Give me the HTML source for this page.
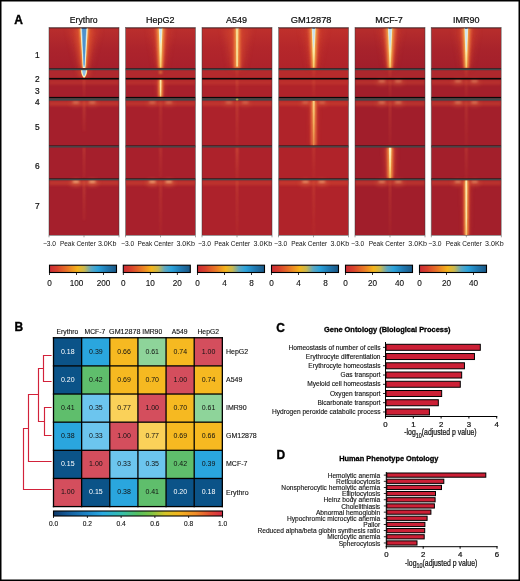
<!DOCTYPE html>
<html><head><meta charset="utf-8"><title>Figure</title>
<style>
html,body{margin:0;padding:0;background:#fff;}
body{width:520px;height:581px;overflow:hidden;}
svg{display:block;will-change:transform;}
text{font-family:"Liberation Sans",sans-serif;}
.tb{stroke:#111;stroke-width:0.22px;}
.tb2{stroke:#111;stroke-width:0.12px;}
</style></head><body>
<svg width="520" height="581" viewBox="0 0 520 581">
<defs>
<filter id="b05" x="-50%" y="-50%" width="200%" height="200%"><feGaussianBlur stdDeviation="0.5"/></filter>
<filter id="b08" x="-50%" y="-50%" width="200%" height="200%"><feGaussianBlur stdDeviation="0.8"/></filter>
<filter id="b12" x="-50%" y="-50%" width="200%" height="200%"><feGaussianBlur stdDeviation="1.2"/></filter>
<filter id="b2" x="-50%" y="-50%" width="200%" height="200%"><feGaussianBlur stdDeviation="2"/></filter>
<filter id="b3" x="-50%" y="-50%" width="200%" height="200%"><feGaussianBlur stdDeviation="3"/></filter>
<filter id="b5" x="-50%" y="-50%" width="200%" height="200%"><feGaussianBlur stdDeviation="5"/></filter>
<linearGradient id="cmA" x1="0" x2="1" y1="0" y2="0">
 <stop offset="0" stop-color="#c92a34"/>
 <stop offset="0.12" stop-color="#d9432c"/>
 <stop offset="0.28" stop-color="#ea7b25"/>
 <stop offset="0.42" stop-color="#f4b51c"/>
 <stop offset="0.52" stop-color="#c8b850"/>
 <stop offset="0.62" stop-color="#5fa8c0"/>
 <stop offset="0.72" stop-color="#2ba3db"/>
 <stop offset="0.86" stop-color="#1f78b0"/>
 <stop offset="1" stop-color="#1a5784"/>
</linearGradient>
<linearGradient id="cmB" x1="0" x2="1" y1="0" y2="0">
 <stop offset="0" stop-color="#0d3766"/>
 <stop offset="0.08" stop-color="#145a98"/>
 <stop offset="0.2" stop-color="#1e86c8"/>
 <stop offset="0.29" stop-color="#2aaae2"/>
 <stop offset="0.4" stop-color="#35bfb0"/>
 <stop offset="0.5" stop-color="#55c060"/>
 <stop offset="0.58" stop-color="#80c444"/>
 <stop offset="0.66" stop-color="#d4c42a"/>
 <stop offset="0.74" stop-color="#f3b51e"/>
 <stop offset="0.84" stop-color="#f08c28"/>
 <stop offset="0.93" stop-color="#e04c34"/>
 <stop offset="1" stop-color="#d42a45"/>
</linearGradient>
<linearGradient id="c1fade" x1="0" x2="0" y1="0" y2="1">
 <stop offset="0" stop-color="#d8452e" stop-opacity="0.4"/>
 <stop offset="0.5" stop-color="#d8452e" stop-opacity="0.12"/>
 <stop offset="1" stop-color="#d8452e" stop-opacity="0"/>
</linearGradient>
<linearGradient id="coreG" x1="0" x2="0" y1="0" y2="1">
 <stop offset="0" stop-color="#fdf2cf"/>
 <stop offset="0.6" stop-color="#fbe6a6"/>
 <stop offset="1" stop-color="#f6c866"/>
</linearGradient>
<linearGradient id="flG" x1="0" x2="0" y1="0" y2="1">
 <stop offset="0" stop-color="#e0603e" stop-opacity="0.85"/>
 <stop offset="1" stop-color="#d04a36" stop-opacity="0.35"/>
</linearGradient>
<linearGradient id="gmG" x1="0" x2="0" y1="0" y2="1">
 <stop offset="0" stop-color="#f8cc80"/>
 <stop offset="0.5" stop-color="#f2ae5c"/>
 <stop offset="1" stop-color="#e68448"/>
</linearGradient>
<linearGradient id="gmE" x1="0" x2="0" y1="0" y2="1">
 <stop offset="0" stop-color="#ec9448"/>
 <stop offset="1" stop-color="#dc6a3e"/>
</linearGradient>
<linearGradient id="mcG" x1="0" x2="0" y1="0" y2="1">
 <stop offset="0" stop-color="#fdf0c4"/>
 <stop offset="0.6" stop-color="#fad98a"/>
 <stop offset="1" stop-color="#f2b050"/>
</linearGradient>
<linearGradient id="imG" x1="0" x2="0" y1="0" y2="1">
 <stop offset="0" stop-color="#fbe6a8"/>
 <stop offset="0.7" stop-color="#fbe0a0"/>
 <stop offset="1" stop-color="#f6c270"/>
</linearGradient>
<linearGradient id="fadeDown" x1="0" x2="0" y1="0" y2="1">
 <stop offset="0" stop-color="#fff" stop-opacity="1"/>
 <stop offset="1" stop-color="#fff" stop-opacity="0.35"/>
</linearGradient>
</defs>
<rect x="0.75" y="0.75" width="518.5" height="579.5" fill="#fff" stroke="#000" stroke-width="1.5"/>

<text x="14.2" y="23.7" font-size="12" font-weight="bold" fill="#000" stroke="#000" stroke-width="0.35">A</text>
<clipPath id="cp0"><rect x="49.0" y="27.5" width="70.0" height="207.8"/></clipPath>
<g clip-path="url(#cp0)">
<rect x="49.0" y="27.5" width="70.0" height="207.8" fill="#a51f2c"/>
<rect x="49.0" y="27.5" width="70.0" height="40.900000000000006" fill="url(#c1fade)"/><rect x="49.0" y="70.2" width="70.0" height="7.799999999999997" fill="#d04232" opacity="0.25"/><polygon points="69.10,27.50 99.10,27.50 89.10,68.40 79.10,68.40" fill="#d4452e" filter="url(#b3)" opacity="0.6"/><polygon points="75.60,27.50 92.60,27.50 87.10,68.40 81.10,68.40" fill="#e0582e" filter="url(#b2)" opacity="0.75"/><polygon points="79.60,27.50 88.60,27.50 85.70,67.90 82.50,67.90" fill="#f4b84a" filter="url(#b08)"/><polygon points="80.40,27.50 87.80,27.50 85.40,67.90 82.80,67.90" fill="#fdf3d0" filter="url(#b05)"/><polygon points="81.30,27.50 86.90,27.50 84.85,66.90 83.35,66.90" fill="#a9d2ea" filter="url(#b05)"/><polygon points="82.00,27.50 86.20,27.50 84.50,65.40 83.70,65.40" fill="#4f92cc" filter="url(#b05)"/><rect x="81.60" y="27.5" width="5" height="1.2" fill="#1d4f80" filter="url(#b05)"/><polygon points="76.10,70.20 92.10,70.20 87.10,78.00 81.10,78.00" fill="#d9502e" filter="url(#b2)" opacity="0.6"/><path d="M80.80,69.90 H87.40 C87.40,74.30 84.89,77.90 84.10,77.90 C83.31,77.90 80.80,74.30 80.80,69.90Z" fill="#f4b84a" filter="url(#b05)"/><path d="M81.30,69.90 H86.90 C86.90,74.08 84.77,77.50 84.10,77.50 C83.43,77.50 81.30,74.08 81.30,69.90Z" fill="#fdf3d0" filter="url(#b05)"/><path d="M82.30,69.90 H85.90 C85.90,73.37 84.53,76.20 84.10,76.20 C83.67,76.20 82.30,73.37 82.30,69.90Z" fill="#8fc0e4" filter="url(#b05)"/><rect x="49.0" y="79.80" width="70.0" height="5" fill="#d44a30" opacity="0.35" filter="url(#b12)"/><polygon points="83.20,79.80 85.00,79.80 84.90,97.00 83.30,97.00" fill="url(#flG)" filter="url(#b08)" opacity="0.55"/><rect x="49.0" y="101.00" width="70.0" height="5" fill="#d44a30" opacity="0.5" filter="url(#b12)"/><ellipse cx="75.90" cy="103.50" rx="6" ry="3.0" fill="#e06a40" filter="url(#b2)" opacity="0.31200000000000006"/><ellipse cx="75.90" cy="102.40" rx="3.4" ry="1.1" fill="#f6b884" filter="url(#b08)" opacity="0.42900000000000005"/><ellipse cx="92.30" cy="103.50" rx="6" ry="3.0" fill="#e06a40" filter="url(#b2)" opacity="0.31200000000000006"/><ellipse cx="92.30" cy="102.40" rx="3.4" ry="1.1" fill="#f6b884" filter="url(#b08)" opacity="0.42900000000000005"/><polygon points="83.02,101.00 85.18,101.00 85.06,131.00 83.14,131.00" fill="url(#flG)" filter="url(#b08)" opacity="0.66"/><polygon points="83.20,147.60 85.00,147.60 84.90,178.50 83.30,178.50" fill="url(#flG)" filter="url(#b08)" opacity="0.6050000000000001"/><rect x="49.0" y="180.30" width="70.0" height="5" fill="#d44a30" opacity="0.5" filter="url(#b12)"/><ellipse cx="75.90" cy="182.80" rx="6" ry="3.0" fill="#e06a40" filter="url(#b2)" opacity="0.6400000000000001"/><ellipse cx="75.90" cy="181.70" rx="3.4" ry="1.1" fill="#f6b884" filter="url(#b08)" opacity="0.8800000000000001"/><ellipse cx="92.30" cy="182.80" rx="6" ry="3.0" fill="#e06a40" filter="url(#b2)" opacity="0.6400000000000001"/><ellipse cx="92.30" cy="181.70" rx="3.4" ry="1.1" fill="#f6b884" filter="url(#b08)" opacity="0.8800000000000001"/><polygon points="83.11,180.30 85.09,180.30 84.98,220.30 83.22,220.30" fill="url(#flG)" filter="url(#b08)" opacity="0.66"/>
<rect x="49.0" y="27.5" width="70.0" height="0.9" fill="#4a2024"/>
<rect x="49.0" y="68.0" width="70.0" height="0.8" fill="#2a1a1c"/>
<rect x="49.0" y="68.8" width="70.0" height="1.4" fill="#3d4a4b"/>
<rect x="49.0" y="77.9" width="70.0" height="1.6" fill="#0a0808"/>
<rect x="49.0" y="96.9" width="70.0" height="1.4" fill="#0a0808"/>
<rect x="49.0" y="98.3" width="70.0" height="2.3" fill="#3d4a4b"/>
<rect x="49.0" y="145.4" width="70.0" height="0.7" fill="#2a1a1c"/>
<rect x="49.0" y="146.1" width="70.0" height="1.4" fill="#3d4a4b"/>
<rect x="49.0" y="178.3" width="70.0" height="0.7" fill="#2a1a1c"/>
<rect x="49.0" y="179.0" width="70.0" height="1.3" fill="#3d4a4b"/>
</g>
<rect x="49.0" y="27.5" width="70.0" height="207.8" fill="none" stroke="#3a3a3a" stroke-width="0.6" opacity="0.8"/>
<text x="83.70" y="22.5" font-size="9" text-anchor="middle" fill="#111" class="tb" textLength="27.8" lengthAdjust="spacingAndGlyphs">Erythro</text>
<rect x="48.70" y="235.3" width="0.6" height="2" fill="#666"/>
<rect x="83.70" y="235.3" width="0.6" height="2" fill="#666"/>
<rect x="118.70" y="235.3" width="0.6" height="2" fill="#666"/>
<text x="42.90" y="245.8" font-size="6.9" fill="#111" textLength="13.2" lengthAdjust="spacingAndGlyphs">−3.0</text>
<text x="59.90" y="245.8" font-size="6.9" fill="#111" textLength="36" lengthAdjust="spacingAndGlyphs">Peak Center</text>
<text x="97.90" y="245.8" font-size="6.9" fill="#111" textLength="18.6" lengthAdjust="spacingAndGlyphs">3.0Kb</text>
<clipPath id="cp1"><rect x="125.5" y="27.5" width="70.0" height="207.8"/></clipPath>
<g clip-path="url(#cp1)">
<rect x="125.5" y="27.5" width="70.0" height="207.8" fill="#a8202c"/>
<rect x="125.5" y="27.5" width="70.0" height="40.900000000000006" fill="url(#c1fade)"/><rect x="125.5" y="70.2" width="70.0" height="7.799999999999997" fill="#d04232" opacity="0.25"/><polygon points="149.60,27.50 171.60,27.50 164.60,68.40 156.60,68.40" fill="#d4452e" filter="url(#b3)" opacity="0.45"/><polygon points="154.60,27.50 166.60,27.50 163.10,68.40 158.10,68.40" fill="#d9482e" filter="url(#b2)" opacity="0.6"/><polygon points="155.09,27.50 166.11,27.50 163.20,68.40 158.00,68.40" fill="#e4683a" filter="url(#b12)" opacity="0.75"/><polygon points="157.70,27.50 163.50,27.50 161.90,68.10 159.30,68.10" fill="#f2b048" filter="url(#b08)"/><polygon points="158.80,27.50 162.40,27.50 161.25,67.40 159.95,67.40" fill="url(#coreG)" filter="url(#b05)"/><polygon points="159.30,27.50 161.90,27.50 160.80,43.50 160.40,43.50" fill="#cfe5f0" filter="url(#b05)"/><rect x="159.40" y="27.5" width="2.4" height="1.3" fill="#7fb0d0" filter="url(#b05)"/><ellipse cx="160.60" cy="72.20" rx="1.6" ry="1.8" fill="#e98a40" filter="url(#b08)" opacity="0.8"/><rect x="125.5" y="79.80" width="70.0" height="5" fill="#d44a30" opacity="0.35" filter="url(#b12)"/><polygon points="156.10,79.80 165.10,79.80 163.60,97.00 157.60,97.00" fill="#d9482e" filter="url(#b2)" opacity="0.5"/><polygon points="157.94,79.80 163.26,79.80 163.00,97.00 158.20,97.00" fill="#e4683a" filter="url(#b12)" opacity="0.75"/><polygon points="159.20,79.80 162.00,79.80 161.80,96.85 159.40,96.85" fill="#f0a844" filter="url(#b08)"/><polygon points="159.73,79.80 161.47,79.80 161.20,96.50 160.00,96.50" fill="url(#imG)" filter="url(#b05)"/><rect x="125.5" y="101.00" width="70.0" height="5" fill="#d44a30" opacity="0.45" filter="url(#b12)"/><ellipse cx="152.40" cy="103.50" rx="6" ry="3.0" fill="#e06a40" filter="url(#b2)" opacity="0.27999999999999997"/><ellipse cx="152.40" cy="102.40" rx="3.4" ry="1.1" fill="#f6b884" filter="url(#b08)" opacity="0.385"/><ellipse cx="168.80" cy="103.50" rx="6" ry="3.0" fill="#e06a40" filter="url(#b2)" opacity="0.27999999999999997"/><ellipse cx="168.80" cy="102.40" rx="3.4" ry="1.1" fill="#f6b884" filter="url(#b08)" opacity="0.385"/><polygon points="159.70,101.00 161.50,101.00 161.40,145.60 159.80,145.60" fill="url(#flG)" filter="url(#b08)" opacity="0.55"/><polygon points="159.70,147.60 161.50,147.60 161.40,178.50 159.80,178.50" fill="url(#flG)" filter="url(#b08)" opacity="0.55"/><rect x="125.5" y="180.30" width="70.0" height="5" fill="#d44a30" opacity="0.5" filter="url(#b12)"/><ellipse cx="152.40" cy="182.80" rx="6" ry="3.0" fill="#e06a40" filter="url(#b2)" opacity="0.6000000000000001"/><ellipse cx="152.40" cy="181.70" rx="3.4" ry="1.1" fill="#f6b884" filter="url(#b08)" opacity="0.8250000000000001"/><ellipse cx="168.80" cy="182.80" rx="6" ry="3.0" fill="#e06a40" filter="url(#b2)" opacity="0.6000000000000001"/><ellipse cx="168.80" cy="181.70" rx="3.4" ry="1.1" fill="#f6b884" filter="url(#b08)" opacity="0.8250000000000001"/><polygon points="159.70,180.30 161.50,180.30 161.40,235.30 159.80,235.30" fill="url(#flG)" filter="url(#b08)" opacity="0.6050000000000001"/>
<rect x="125.5" y="27.5" width="70.0" height="0.9" fill="#4a2024"/>
<rect x="125.5" y="68.0" width="70.0" height="0.8" fill="#2a1a1c"/>
<rect x="125.5" y="68.8" width="70.0" height="1.4" fill="#3d4a4b"/>
<rect x="125.5" y="77.9" width="70.0" height="1.6" fill="#0a0808"/>
<rect x="125.5" y="96.9" width="70.0" height="1.4" fill="#0a0808"/>
<rect x="125.5" y="98.3" width="70.0" height="2.3" fill="#3d4a4b"/>
<rect x="125.5" y="145.4" width="70.0" height="0.7" fill="#2a1a1c"/>
<rect x="125.5" y="146.1" width="70.0" height="1.4" fill="#3d4a4b"/>
<rect x="125.5" y="178.3" width="70.0" height="0.7" fill="#2a1a1c"/>
<rect x="125.5" y="179.0" width="70.0" height="1.3" fill="#3d4a4b"/>
</g>
<rect x="125.5" y="27.5" width="70.0" height="207.8" fill="none" stroke="#3a3a3a" stroke-width="0.6" opacity="0.8"/>
<text x="160.20" y="22.5" font-size="9" text-anchor="middle" fill="#111" class="tb">HepG2</text>
<rect x="125.20" y="235.3" width="0.6" height="2" fill="#666"/>
<rect x="160.20" y="235.3" width="0.6" height="2" fill="#666"/>
<rect x="195.20" y="235.3" width="0.6" height="2" fill="#666"/>
<text x="121.10" y="245.8" font-size="6.9" fill="#111" textLength="13.2" lengthAdjust="spacingAndGlyphs">−3.0</text>
<text x="137.40" y="245.8" font-size="6.9" fill="#111" textLength="36" lengthAdjust="spacingAndGlyphs">Peak Center</text>
<text x="176.40" y="245.8" font-size="6.9" fill="#111" textLength="18.6" lengthAdjust="spacingAndGlyphs">3.0Kb</text>
<clipPath id="cp2"><rect x="202.0" y="27.5" width="70.0" height="207.8"/></clipPath>
<g clip-path="url(#cp2)">
<rect x="202.0" y="27.5" width="70.0" height="207.8" fill="#ad222b"/>
<rect x="202.0" y="27.5" width="70.0" height="40.900000000000006" fill="url(#c1fade)"/><rect x="202.0" y="70.2" width="70.0" height="7.799999999999997" fill="#d04232" opacity="0.25"/><polygon points="224.10,27.50 250.10,27.50 243.10,68.40 231.10,68.40" fill="#d84e30" filter="url(#b3)" opacity="0.5"/><polygon points="231.60,27.50 242.60,27.50 241.10,68.40 233.10,68.40" fill="#d9482e" filter="url(#b2)" opacity="0.55"/><polygon points="233.30,27.50 240.90,27.50 240.70,68.40 233.50,68.40" fill="#e4683a" filter="url(#b12)" opacity="0.75"/><polygon points="235.10,27.50 239.10,27.50 238.90,67.80 235.30,67.80" fill="#ee9a40" filter="url(#b08)"/><polygon points="235.86,27.50 238.34,27.50 238.00,66.40 236.20,66.40" fill="#f8d890" filter="url(#b05)"/><rect x="235.60" y="27.5" width="3" height="1.2" fill="#d8e6e0" filter="url(#b05)"/><polygon points="236.20,70.20 238.00,70.20 237.90,78.00 236.30,78.00" fill="url(#flG)" filter="url(#b08)" opacity="0.55"/><rect x="202.0" y="79.80" width="70.0" height="5" fill="#d44a30" opacity="0.35" filter="url(#b12)"/><polygon points="236.11,79.80 238.09,79.80 237.98,97.00 236.22,97.00" fill="url(#flG)" filter="url(#b08)" opacity="0.66"/><rect x="202.0" y="101.00" width="70.0" height="5" fill="#d44a30" opacity="0.45" filter="url(#b12)"/><ellipse cx="228.90" cy="103.50" rx="6" ry="3.0" fill="#e06a40" filter="url(#b2)" opacity="0.256"/><ellipse cx="228.90" cy="102.40" rx="3.4" ry="1.1" fill="#f6b884" filter="url(#b08)" opacity="0.35200000000000004"/><ellipse cx="245.30" cy="103.50" rx="6" ry="3.0" fill="#e06a40" filter="url(#b2)" opacity="0.256"/><ellipse cx="245.30" cy="102.40" rx="3.4" ry="1.1" fill="#f6b884" filter="url(#b08)" opacity="0.35200000000000004"/><polygon points="236.11,101.00 238.09,101.00 237.98,145.60 236.22,145.60" fill="url(#flG)" filter="url(#b08)" opacity="0.66"/><polygon points="236.02,147.60 238.18,147.60 238.06,178.50 236.14,178.50" fill="url(#flG)" filter="url(#b08)" opacity="0.8250000000000001"/><rect x="202.0" y="180.30" width="70.0" height="5" fill="#d44a30" opacity="0.4" filter="url(#b12)"/><polygon points="236.20,180.30 238.00,180.30 237.90,235.30 236.30,235.30" fill="url(#flG)" filter="url(#b08)" opacity="0.6050000000000001"/>
<rect x="202.0" y="27.5" width="70.0" height="0.9" fill="#4a2024"/>
<rect x="202.0" y="68.0" width="70.0" height="0.8" fill="#2a1a1c"/>
<rect x="202.0" y="68.8" width="70.0" height="1.4" fill="#3d4a4b"/>
<rect x="202.0" y="77.9" width="70.0" height="1.6" fill="#0a0808"/>
<rect x="202.0" y="96.9" width="70.0" height="1.4" fill="#0a0808"/>
<rect x="202.0" y="98.3" width="70.0" height="2.3" fill="#3d4a4b"/>
<rect x="202.0" y="145.4" width="70.0" height="0.7" fill="#2a1a1c"/>
<rect x="202.0" y="146.1" width="70.0" height="1.4" fill="#3d4a4b"/>
<rect x="202.0" y="178.3" width="70.0" height="0.7" fill="#2a1a1c"/>
<rect x="202.0" y="179.0" width="70.0" height="1.3" fill="#3d4a4b"/>
<ellipse cx="237.10" cy="99.6" rx="1.4" ry="1.0" fill="#b8c050" filter="url(#b05)" opacity="0.85"/>
</g>
<rect x="202.0" y="27.5" width="70.0" height="207.8" fill="none" stroke="#3a3a3a" stroke-width="0.6" opacity="0.8"/>
<text x="236.50" y="22.5" font-size="9" text-anchor="middle" fill="#111" class="tb">A549</text>
<rect x="201.70" y="235.3" width="0.6" height="2" fill="#666"/>
<rect x="236.70" y="235.3" width="0.6" height="2" fill="#666"/>
<rect x="271.70" y="235.3" width="0.6" height="2" fill="#666"/>
<text x="197.90" y="245.8" font-size="6.9" fill="#111" textLength="13.2" lengthAdjust="spacingAndGlyphs">−3.0</text>
<text x="214.20" y="245.8" font-size="6.9" fill="#111" textLength="36" lengthAdjust="spacingAndGlyphs">Peak Center</text>
<text x="253.60" y="245.8" font-size="6.9" fill="#111" textLength="18.6" lengthAdjust="spacingAndGlyphs">3.0Kb</text>
<clipPath id="cp3"><rect x="278.6" y="27.5" width="70.0" height="207.8"/></clipPath>
<g clip-path="url(#cp3)">
<rect x="278.6" y="27.5" width="70.0" height="207.8" fill="#b0232a"/>
<rect x="278.6" y="27.5" width="70.0" height="40.900000000000006" fill="url(#c1fade)"/><rect x="278.6" y="70.2" width="70.0" height="7.799999999999997" fill="#d04232" opacity="0.25"/><polygon points="301.70,27.50 325.70,27.50 317.70,68.40 309.70,68.40" fill="#d4452e" filter="url(#b3)" opacity="0.45"/><polygon points="307.70,27.50 319.70,27.50 316.20,68.40 311.20,68.40" fill="#d9482e" filter="url(#b2)" opacity="0.6"/><polygon points="308.00,27.50 319.40,27.50 316.30,68.40 311.10,68.40" fill="#e4683a" filter="url(#b12)" opacity="0.75"/><polygon points="310.70,27.50 316.70,27.50 315.00,68.10 312.40,68.10" fill="#f2b048" filter="url(#b08)"/><polygon points="311.84,27.50 315.56,27.50 314.35,67.40 313.05,67.40" fill="url(#coreG)" filter="url(#b05)"/><polygon points="312.20,27.50 315.20,27.50 313.90,47.50 313.50,47.50" fill="#c8e1ee" filter="url(#b05)"/><rect x="312.40" y="27.5" width="2.6" height="1.3" fill="#4a7eae" filter="url(#b05)"/><polygon points="312.80,70.20 314.60,70.20 314.50,78.00 312.90,78.00" fill="url(#flG)" filter="url(#b08)" opacity="0.55"/><rect x="278.6" y="79.80" width="70.0" height="5" fill="#d44a30" opacity="0.35" filter="url(#b12)"/><polygon points="312.80,79.80 314.60,79.80 314.50,97.00 312.90,97.00" fill="url(#flG)" filter="url(#b08)" opacity="0.55"/><rect x="278.6" y="101.00" width="70.0" height="5" fill="#d44a30" opacity="0.45" filter="url(#b12)"/><ellipse cx="305.50" cy="103.50" rx="6" ry="3.0" fill="#e06a40" filter="url(#b2)" opacity="0.256"/><ellipse cx="305.50" cy="102.40" rx="3.4" ry="1.1" fill="#f6b884" filter="url(#b08)" opacity="0.35200000000000004"/><ellipse cx="321.90" cy="103.50" rx="6" ry="3.0" fill="#e06a40" filter="url(#b2)" opacity="0.256"/><ellipse cx="321.90" cy="102.40" rx="3.4" ry="1.1" fill="#f6b884" filter="url(#b08)" opacity="0.35200000000000004"/><polygon points="309.20,101.00 318.20,101.00 317.20,145.60 310.20,145.60" fill="#d9482e" filter="url(#b2)" opacity="0.4"/><polygon points="310.66,101.00 316.74,101.00 316.50,145.60 310.90,145.60" fill="#e4683a" filter="url(#b12)" opacity="0.75"/><polygon points="312.10,101.00 315.30,101.00 315.10,145.60 312.30,145.60" fill="url(#gmE)" filter="url(#b08)"/><polygon points="312.71,101.00 314.69,101.00 314.40,145.60 313.00,145.60" fill="url(#gmG)" filter="url(#b05)"/><polygon points="312.80,147.60 314.60,147.60 314.50,178.50 312.90,178.50" fill="url(#flG)" filter="url(#b08)" opacity="0.55"/><rect x="278.6" y="180.30" width="70.0" height="5" fill="#d44a30" opacity="0.5" filter="url(#b12)"/><ellipse cx="305.50" cy="182.80" rx="6" ry="3.0" fill="#e06a40" filter="url(#b2)" opacity="0.48"/><ellipse cx="305.50" cy="181.70" rx="3.4" ry="1.1" fill="#f6b884" filter="url(#b08)" opacity="0.66"/><ellipse cx="321.90" cy="182.80" rx="6" ry="3.0" fill="#e06a40" filter="url(#b2)" opacity="0.48"/><ellipse cx="321.90" cy="181.70" rx="3.4" ry="1.1" fill="#f6b884" filter="url(#b08)" opacity="0.66"/><polygon points="312.80,180.30 314.60,180.30 314.50,235.30 312.90,235.30" fill="url(#flG)" filter="url(#b08)" opacity="0.6050000000000001"/>
<rect x="278.6" y="27.5" width="70.0" height="0.9" fill="#4a2024"/>
<rect x="278.6" y="68.0" width="70.0" height="0.8" fill="#2a1a1c"/>
<rect x="278.6" y="68.8" width="70.0" height="1.4" fill="#3d4a4b"/>
<rect x="278.6" y="77.9" width="70.0" height="1.6" fill="#0a0808"/>
<rect x="278.6" y="96.9" width="70.0" height="1.4" fill="#0a0808"/>
<rect x="278.6" y="98.3" width="70.0" height="2.3" fill="#3d4a4b"/>
<rect x="278.6" y="145.4" width="70.0" height="0.7" fill="#2a1a1c"/>
<rect x="278.6" y="146.1" width="70.0" height="1.4" fill="#3d4a4b"/>
<rect x="278.6" y="178.3" width="70.0" height="0.7" fill="#2a1a1c"/>
<rect x="278.6" y="179.0" width="70.0" height="1.3" fill="#3d4a4b"/>
</g>
<rect x="278.6" y="27.5" width="70.0" height="207.8" fill="none" stroke="#3a3a3a" stroke-width="0.6" opacity="0.8"/>
<text x="311.10" y="22.5" font-size="9" text-anchor="middle" fill="#111" class="tb" textLength="40.8" lengthAdjust="spacingAndGlyphs">GM12878</text>
<rect x="278.30" y="235.3" width="0.6" height="2" fill="#666"/>
<rect x="313.30" y="235.3" width="0.6" height="2" fill="#666"/>
<rect x="348.30" y="235.3" width="0.6" height="2" fill="#666"/>
<text x="274.10" y="245.8" font-size="6.9" fill="#111" textLength="13.2" lengthAdjust="spacingAndGlyphs">−3.0</text>
<text x="291.20" y="245.8" font-size="6.9" fill="#111" textLength="36" lengthAdjust="spacingAndGlyphs">Peak Center</text>
<text x="330.50" y="245.8" font-size="6.9" fill="#111" textLength="18.6" lengthAdjust="spacingAndGlyphs">3.0Kb</text>
<clipPath id="cp4"><rect x="355.0" y="27.5" width="70.0" height="207.8"/></clipPath>
<g clip-path="url(#cp4)">
<rect x="355.0" y="27.5" width="70.0" height="207.8" fill="#a11e2b"/>
<rect x="355.0" y="27.5" width="70.0" height="40.900000000000006" fill="url(#c1fade)"/><rect x="355.0" y="70.2" width="70.0" height="7.799999999999997" fill="#d04232" opacity="0.25"/><polygon points="379.10,27.50 401.10,27.50 394.10,68.40 386.10,68.40" fill="#d4452e" filter="url(#b3)" opacity="0.45"/><polygon points="383.10,27.50 397.10,27.50 393.10,68.40 387.10,68.40" fill="#d9482e" filter="url(#b2)" opacity="0.6"/><polygon points="383.64,27.50 396.56,27.50 392.70,68.40 387.50,68.40" fill="#e4683a" filter="url(#b12)" opacity="0.75"/><polygon points="386.70,27.50 393.50,27.50 391.40,68.10 388.80,68.10" fill="#f2b048" filter="url(#b08)"/><polygon points="387.99,27.50 392.21,27.50 390.75,67.40 389.45,67.40" fill="url(#coreG)" filter="url(#b05)"/><polygon points="388.30,27.50 391.90,27.50 390.30,49.50 389.90,49.50" fill="#c4deec" filter="url(#b05)"/><rect x="388.60" y="27.5" width="3.0" height="1.3" fill="#2f6294" filter="url(#b05)"/><polygon points="389.20,70.20 391.00,70.20 390.90,78.00 389.30,78.00" fill="url(#flG)" filter="url(#b08)" opacity="0.55"/><rect x="355.0" y="79.80" width="70.0" height="5" fill="#d44a30" opacity="0.4" filter="url(#b12)"/><ellipse cx="381.90" cy="82.30" rx="6" ry="3.0" fill="#e06a40" filter="url(#b2)" opacity="0.32000000000000006"/><ellipse cx="381.90" cy="81.20" rx="3.4" ry="1.1" fill="#f6b884" filter="url(#b08)" opacity="0.44000000000000006"/><ellipse cx="398.30" cy="82.30" rx="6" ry="3.0" fill="#e06a40" filter="url(#b2)" opacity="0.32000000000000006"/><ellipse cx="398.30" cy="81.20" rx="3.4" ry="1.1" fill="#f6b884" filter="url(#b08)" opacity="0.44000000000000006"/><polygon points="389.20,79.80 391.00,79.80 390.90,97.00 389.30,97.00" fill="url(#flG)" filter="url(#b08)" opacity="0.55"/><rect x="355.0" y="101.00" width="70.0" height="5" fill="#d44a30" opacity="0.45" filter="url(#b12)"/><ellipse cx="381.90" cy="103.50" rx="6" ry="3.0" fill="#e06a40" filter="url(#b2)" opacity="0.336"/><ellipse cx="381.90" cy="102.40" rx="3.4" ry="1.1" fill="#f6b884" filter="url(#b08)" opacity="0.462"/><ellipse cx="398.30" cy="103.50" rx="6" ry="3.0" fill="#e06a40" filter="url(#b2)" opacity="0.336"/><ellipse cx="398.30" cy="102.40" rx="3.4" ry="1.1" fill="#f6b884" filter="url(#b08)" opacity="0.462"/><polygon points="389.20,101.00 391.00,101.00 390.90,145.60 389.30,145.60" fill="url(#flG)" filter="url(#b08)" opacity="0.55"/><polygon points="384.10,147.60 396.10,147.60 394.60,178.50 385.60,178.50" fill="#d9482e" filter="url(#b2)" opacity="0.5"/><polygon points="386.30,147.60 393.90,147.60 393.10,178.50 387.10,178.50" fill="#e4683a" filter="url(#b12)" opacity="0.75"/><polygon points="388.10,147.60 392.10,147.60 391.60,178.50 388.60,178.50" fill="#f0a444" filter="url(#b08)"/><polygon points="388.86,147.60 391.34,147.60 390.85,178.50 389.35,178.50" fill="url(#mcG)" filter="url(#b05)"/><rect x="355.0" y="180.30" width="70.0" height="5" fill="#d44a30" opacity="0.45" filter="url(#b12)"/><ellipse cx="381.90" cy="182.80" rx="6" ry="3.0" fill="#e06a40" filter="url(#b2)" opacity="0.4"/><ellipse cx="381.90" cy="181.70" rx="3.4" ry="1.1" fill="#f6b884" filter="url(#b08)" opacity="0.55"/><ellipse cx="398.30" cy="182.80" rx="6" ry="3.0" fill="#e06a40" filter="url(#b2)" opacity="0.4"/><ellipse cx="398.30" cy="181.70" rx="3.4" ry="1.1" fill="#f6b884" filter="url(#b08)" opacity="0.55"/><polygon points="389.20,180.30 391.00,180.30 390.90,235.30 389.30,235.30" fill="url(#flG)" filter="url(#b08)" opacity="0.55"/>
<rect x="355.0" y="27.5" width="70.0" height="0.9" fill="#4a2024"/>
<rect x="355.0" y="68.0" width="70.0" height="0.8" fill="#2a1a1c"/>
<rect x="355.0" y="68.8" width="70.0" height="1.4" fill="#3d4a4b"/>
<rect x="355.0" y="77.9" width="70.0" height="1.6" fill="#0a0808"/>
<rect x="355.0" y="96.9" width="70.0" height="1.4" fill="#0a0808"/>
<rect x="355.0" y="98.3" width="70.0" height="2.3" fill="#3d4a4b"/>
<rect x="355.0" y="145.4" width="70.0" height="0.7" fill="#2a1a1c"/>
<rect x="355.0" y="146.1" width="70.0" height="1.4" fill="#3d4a4b"/>
<rect x="355.0" y="178.3" width="70.0" height="0.7" fill="#2a1a1c"/>
<rect x="355.0" y="179.0" width="70.0" height="1.3" fill="#3d4a4b"/>
</g>
<rect x="355.0" y="27.5" width="70.0" height="207.8" fill="none" stroke="#3a3a3a" stroke-width="0.6" opacity="0.8"/>
<text x="389.10" y="22.5" font-size="9" text-anchor="middle" fill="#111" class="tb">MCF-7</text>
<rect x="354.70" y="235.3" width="0.6" height="2" fill="#666"/>
<rect x="389.70" y="235.3" width="0.6" height="2" fill="#666"/>
<rect x="424.70" y="235.3" width="0.6" height="2" fill="#666"/>
<text x="351.10" y="245.8" font-size="6.9" fill="#111" textLength="13.2" lengthAdjust="spacingAndGlyphs">−3.0</text>
<text x="368.70" y="245.8" font-size="6.9" fill="#111" textLength="36" lengthAdjust="spacingAndGlyphs">Peak Center</text>
<text x="408.30" y="245.8" font-size="6.9" fill="#111" textLength="18.6" lengthAdjust="spacingAndGlyphs">3.0Kb</text>
<clipPath id="cp5"><rect x="431.2" y="27.5" width="70.0" height="207.8"/></clipPath>
<g clip-path="url(#cp5)">
<rect x="431.2" y="27.5" width="70.0" height="207.8" fill="#a31f2b"/>
<rect x="431.2" y="27.5" width="70.0" height="40.900000000000006" fill="url(#c1fade)"/><rect x="431.2" y="70.2" width="70.0" height="7.799999999999997" fill="#d04232" opacity="0.25"/><polygon points="455.30,27.50 477.30,27.50 470.30,68.40 462.30,68.40" fill="#d4452e" filter="url(#b3)" opacity="0.45"/><polygon points="460.30,27.50 472.30,27.50 468.80,68.40 463.80,68.40" fill="#d9482e" filter="url(#b2)" opacity="0.6"/><polygon points="460.79,27.50 471.81,27.50 468.90,68.40 463.70,68.40" fill="#e4683a" filter="url(#b12)" opacity="0.75"/><polygon points="463.40,27.50 469.20,27.50 467.60,68.10 465.00,68.10" fill="#f2b048" filter="url(#b08)"/><polygon points="464.50,27.50 468.10,27.50 466.95,67.40 465.65,67.40" fill="url(#coreG)" filter="url(#b05)"/><polygon points="464.80,27.50 467.80,27.50 466.50,51.50 466.10,51.50" fill="#cfe6f2" filter="url(#b05)"/><rect x="465.00" y="27.5" width="2.6" height="1.3" fill="#3f74a6" filter="url(#b05)"/><polygon points="465.40,70.20 467.20,70.20 467.10,78.00 465.50,78.00" fill="url(#flG)" filter="url(#b08)" opacity="0.55"/><rect x="431.2" y="79.80" width="70.0" height="5" fill="#d44a30" opacity="0.4" filter="url(#b12)"/><ellipse cx="458.10" cy="82.30" rx="6" ry="3.0" fill="#e06a40" filter="url(#b2)" opacity="0.32000000000000006"/><ellipse cx="458.10" cy="81.20" rx="3.4" ry="1.1" fill="#f6b884" filter="url(#b08)" opacity="0.44000000000000006"/><ellipse cx="474.50" cy="82.30" rx="6" ry="3.0" fill="#e06a40" filter="url(#b2)" opacity="0.32000000000000006"/><ellipse cx="474.50" cy="81.20" rx="3.4" ry="1.1" fill="#f6b884" filter="url(#b08)" opacity="0.44000000000000006"/><polygon points="465.40,79.80 467.20,79.80 467.10,97.00 465.50,97.00" fill="url(#flG)" filter="url(#b08)" opacity="0.55"/><rect x="431.2" y="101.00" width="70.0" height="5" fill="#d44a30" opacity="0.45" filter="url(#b12)"/><ellipse cx="458.10" cy="103.50" rx="6" ry="3.0" fill="#e06a40" filter="url(#b2)" opacity="0.336"/><ellipse cx="458.10" cy="102.40" rx="3.4" ry="1.1" fill="#f6b884" filter="url(#b08)" opacity="0.462"/><ellipse cx="474.50" cy="103.50" rx="6" ry="3.0" fill="#e06a40" filter="url(#b2)" opacity="0.336"/><ellipse cx="474.50" cy="102.40" rx="3.4" ry="1.1" fill="#f6b884" filter="url(#b08)" opacity="0.462"/><polygon points="465.40,101.00 467.20,101.00 467.10,145.60 465.50,145.60" fill="url(#flG)" filter="url(#b08)" opacity="0.55"/><polygon points="465.40,147.60 467.20,147.60 467.10,178.50 465.50,178.50" fill="url(#flG)" filter="url(#b08)" opacity="0.55"/><rect x="431.2" y="180.30" width="70.0" height="5" fill="#d44a30" opacity="0.45" filter="url(#b12)"/><ellipse cx="458.10" cy="182.80" rx="6" ry="3.0" fill="#e06a40" filter="url(#b2)" opacity="0.4"/><ellipse cx="458.10" cy="181.70" rx="3.4" ry="1.1" fill="#f6b884" filter="url(#b08)" opacity="0.55"/><ellipse cx="474.50" cy="182.80" rx="6" ry="3.0" fill="#e06a40" filter="url(#b2)" opacity="0.4"/><ellipse cx="474.50" cy="181.70" rx="3.4" ry="1.1" fill="#f6b884" filter="url(#b08)" opacity="0.55"/><polygon points="461.80,180.30 470.80,180.30 469.30,235.30 463.30,235.30" fill="#d9482e" filter="url(#b2)" opacity="0.5"/><polygon points="463.45,180.30 469.15,180.30 468.90,235.30 463.70,235.30" fill="#e4683a" filter="url(#b12)" opacity="0.75"/><polygon points="464.80,180.30 467.80,180.30 467.60,235.30 465.00,235.30" fill="#f2b048" filter="url(#b08)"/><polygon points="465.37,180.30 467.23,180.30 466.95,235.30 465.65,235.30" fill="url(#imG)" filter="url(#b05)"/>
<rect x="431.2" y="27.5" width="70.0" height="0.9" fill="#4a2024"/>
<rect x="431.2" y="68.0" width="70.0" height="0.8" fill="#2a1a1c"/>
<rect x="431.2" y="68.8" width="70.0" height="1.4" fill="#3d4a4b"/>
<rect x="431.2" y="77.9" width="70.0" height="1.6" fill="#0a0808"/>
<rect x="431.2" y="96.9" width="70.0" height="1.4" fill="#0a0808"/>
<rect x="431.2" y="98.3" width="70.0" height="2.3" fill="#3d4a4b"/>
<rect x="431.2" y="145.4" width="70.0" height="0.7" fill="#2a1a1c"/>
<rect x="431.2" y="146.1" width="70.0" height="1.4" fill="#3d4a4b"/>
<rect x="431.2" y="178.3" width="70.0" height="0.7" fill="#2a1a1c"/>
<rect x="431.2" y="179.0" width="70.0" height="1.3" fill="#3d4a4b"/>
</g>
<rect x="431.2" y="27.5" width="70.0" height="207.8" fill="none" stroke="#3a3a3a" stroke-width="0.6" opacity="0.8"/>
<text x="466.30" y="22.5" font-size="9" text-anchor="middle" fill="#111" class="tb">IMR90</text>
<rect x="430.90" y="235.3" width="0.6" height="2" fill="#666"/>
<rect x="465.90" y="235.3" width="0.6" height="2" fill="#666"/>
<rect x="500.90" y="235.3" width="0.6" height="2" fill="#666"/>
<text x="428.30" y="245.8" font-size="6.9" fill="#111" textLength="13.2" lengthAdjust="spacingAndGlyphs">−3.0</text>
<text x="445.80" y="245.8" font-size="6.9" fill="#111" textLength="36" lengthAdjust="spacingAndGlyphs">Peak Center</text>
<text x="485.00" y="245.8" font-size="6.9" fill="#111" textLength="18.6" lengthAdjust="spacingAndGlyphs">3.0Kb</text>
<rect x="49.5" y="265.2" width="67.0" height="7.3" fill="url(#cmA)" stroke="#000" stroke-width="1.1"/>
<rect x="49.10" y="272.5" width="0.8" height="2.5" fill="#000"/>
<text x="49.50" y="285.5" font-size="8.2" text-anchor="middle" fill="#111" class="tb2">0</text>
<rect x="76.10" y="272.5" width="0.8" height="2.5" fill="#000"/>
<text x="76.50" y="285.5" font-size="8.2" text-anchor="middle" fill="#111" class="tb2">100</text>
<rect x="103.10" y="272.5" width="0.8" height="2.5" fill="#000"/>
<text x="103.50" y="285.5" font-size="8.2" text-anchor="middle" fill="#111" class="tb2">200</text>
<rect x="123.3" y="265.2" width="67.0" height="7.3" fill="url(#cmA)" stroke="#000" stroke-width="1.1"/>
<rect x="122.90" y="272.5" width="0.8" height="2.5" fill="#000"/>
<text x="123.30" y="285.5" font-size="8.2" text-anchor="middle" fill="#111" class="tb2">0</text>
<rect x="149.90" y="272.5" width="0.8" height="2.5" fill="#000"/>
<text x="150.30" y="285.5" font-size="8.2" text-anchor="middle" fill="#111" class="tb2">10</text>
<rect x="176.90" y="272.5" width="0.8" height="2.5" fill="#000"/>
<text x="177.30" y="285.5" font-size="8.2" text-anchor="middle" fill="#111" class="tb2">20</text>
<rect x="197.5" y="265.2" width="67.0" height="7.3" fill="url(#cmA)" stroke="#000" stroke-width="1.1"/>
<rect x="197.10" y="272.5" width="0.8" height="2.5" fill="#000"/>
<text x="197.50" y="285.5" font-size="8.2" text-anchor="middle" fill="#111" class="tb2">0</text>
<rect x="224.10" y="272.5" width="0.8" height="2.5" fill="#000"/>
<text x="224.50" y="285.5" font-size="8.2" text-anchor="middle" fill="#111" class="tb2">4</text>
<rect x="251.10" y="272.5" width="0.8" height="2.5" fill="#000"/>
<text x="251.50" y="285.5" font-size="8.2" text-anchor="middle" fill="#111" class="tb2">8</text>
<rect x="271.5" y="265.2" width="67.0" height="7.3" fill="url(#cmA)" stroke="#000" stroke-width="1.1"/>
<rect x="271.10" y="272.5" width="0.8" height="2.5" fill="#000"/>
<text x="271.50" y="285.5" font-size="8.2" text-anchor="middle" fill="#111" class="tb2">0</text>
<rect x="298.10" y="272.5" width="0.8" height="2.5" fill="#000"/>
<text x="298.50" y="285.5" font-size="8.2" text-anchor="middle" fill="#111" class="tb2">4</text>
<rect x="325.10" y="272.5" width="0.8" height="2.5" fill="#000"/>
<text x="325.50" y="285.5" font-size="8.2" text-anchor="middle" fill="#111" class="tb2">8</text>
<rect x="345.5" y="265.2" width="67.0" height="7.3" fill="url(#cmA)" stroke="#000" stroke-width="1.1"/>
<rect x="345.10" y="272.5" width="0.8" height="2.5" fill="#000"/>
<text x="345.50" y="285.5" font-size="8.2" text-anchor="middle" fill="#111" class="tb2">0</text>
<rect x="372.10" y="272.5" width="0.8" height="2.5" fill="#000"/>
<text x="372.50" y="285.5" font-size="8.2" text-anchor="middle" fill="#111" class="tb2">20</text>
<rect x="399.10" y="272.5" width="0.8" height="2.5" fill="#000"/>
<text x="399.50" y="285.5" font-size="8.2" text-anchor="middle" fill="#111" class="tb2">40</text>
<rect x="419.5" y="265.2" width="67.0" height="7.3" fill="url(#cmA)" stroke="#000" stroke-width="1.1"/>
<rect x="419.10" y="272.5" width="0.8" height="2.5" fill="#000"/>
<text x="419.50" y="285.5" font-size="8.2" text-anchor="middle" fill="#111" class="tb2">0</text>
<rect x="446.10" y="272.5" width="0.8" height="2.5" fill="#000"/>
<text x="446.50" y="285.5" font-size="8.2" text-anchor="middle" fill="#111" class="tb2">20</text>
<rect x="473.10" y="272.5" width="0.8" height="2.5" fill="#000"/>
<text x="473.50" y="285.5" font-size="8.2" text-anchor="middle" fill="#111" class="tb2">40</text>
<text x="37.2" y="57.9" font-size="8.3" text-anchor="middle" fill="#111" class="tb">1</text>
<text x="37.2" y="81.9" font-size="8.3" text-anchor="middle" fill="#111" class="tb">2</text>
<text x="37.2" y="94.2" font-size="8.3" text-anchor="middle" fill="#111" class="tb">3</text>
<text x="37.2" y="105.4" font-size="8.3" text-anchor="middle" fill="#111" class="tb">4</text>
<text x="37.2" y="130.0" font-size="8.3" text-anchor="middle" fill="#111" class="tb">5</text>
<text x="37.2" y="168.7" font-size="8.3" text-anchor="middle" fill="#111" class="tb">6</text>
<text x="37.2" y="208.8" font-size="8.3" text-anchor="middle" fill="#111" class="tb">7</text>
<text x="14.6" y="331.3" font-size="12" font-weight="bold" fill="#000" stroke="#000" stroke-width="0.35">B</text>
<rect x="53.50" y="337.75" width="28.14" height="28.14" fill="#0b5388"/>
<text x="67.77" y="353.72" font-size="7" text-anchor="middle" fill="#fff">0.18</text>
<rect x="81.64" y="337.75" width="28.14" height="28.14" fill="#2aa6de"/>
<text x="95.91" y="353.72" font-size="7" text-anchor="middle" fill="#111">0.39</text>
<rect x="109.78" y="337.75" width="28.14" height="28.14" fill="#f6b921"/>
<text x="124.05" y="353.72" font-size="7" text-anchor="middle" fill="#111">0.66</text>
<rect x="137.92" y="337.75" width="28.14" height="28.14" fill="#8ed49a"/>
<text x="152.19" y="353.72" font-size="7" text-anchor="middle" fill="#111">0.61</text>
<rect x="166.06" y="337.75" width="28.14" height="28.14" fill="#f6b921"/>
<text x="180.33" y="353.72" font-size="7" text-anchor="middle" fill="#111">0.74</text>
<rect x="194.20" y="337.75" width="28.14" height="28.14" fill="#d44e5d"/>
<text x="208.47" y="353.72" font-size="7" text-anchor="middle" fill="#111">1.00</text>
<rect x="53.50" y="365.89" width="28.14" height="28.14" fill="#0b5388"/>
<text x="67.77" y="381.86" font-size="7" text-anchor="middle" fill="#fff">0.20</text>
<rect x="81.64" y="365.89" width="28.14" height="28.14" fill="#5fbe6c"/>
<text x="95.91" y="381.86" font-size="7" text-anchor="middle" fill="#111">0.42</text>
<rect x="109.78" y="365.89" width="28.14" height="28.14" fill="#f6b921"/>
<text x="124.05" y="381.86" font-size="7" text-anchor="middle" fill="#111">0.69</text>
<rect x="137.92" y="365.89" width="28.14" height="28.14" fill="#f6b921"/>
<text x="152.19" y="381.86" font-size="7" text-anchor="middle" fill="#111">0.70</text>
<rect x="166.06" y="365.89" width="28.14" height="28.14" fill="#d44e5d"/>
<text x="180.33" y="381.86" font-size="7" text-anchor="middle" fill="#111">1.00</text>
<rect x="194.20" y="365.89" width="28.14" height="28.14" fill="#f6b921"/>
<text x="208.47" y="381.86" font-size="7" text-anchor="middle" fill="#111">0.74</text>
<rect x="53.50" y="394.03" width="28.14" height="28.14" fill="#5fbe6c"/>
<text x="67.77" y="410.00" font-size="7" text-anchor="middle" fill="#111">0.41</text>
<rect x="81.64" y="394.03" width="28.14" height="28.14" fill="#6cc5ee"/>
<text x="95.91" y="410.00" font-size="7" text-anchor="middle" fill="#111">0.35</text>
<rect x="109.78" y="394.03" width="28.14" height="28.14" fill="#fad159"/>
<text x="124.05" y="410.00" font-size="7" text-anchor="middle" fill="#111">0.77</text>
<rect x="137.92" y="394.03" width="28.14" height="28.14" fill="#d44e5d"/>
<text x="152.19" y="410.00" font-size="7" text-anchor="middle" fill="#111">1.00</text>
<rect x="166.06" y="394.03" width="28.14" height="28.14" fill="#f6b921"/>
<text x="180.33" y="410.00" font-size="7" text-anchor="middle" fill="#111">0.70</text>
<rect x="194.20" y="394.03" width="28.14" height="28.14" fill="#8ed49a"/>
<text x="208.47" y="410.00" font-size="7" text-anchor="middle" fill="#111">0.61</text>
<rect x="53.50" y="422.17" width="28.14" height="28.14" fill="#2aa6de"/>
<text x="67.77" y="438.14" font-size="7" text-anchor="middle" fill="#111">0.38</text>
<rect x="81.64" y="422.17" width="28.14" height="28.14" fill="#6cc5ee"/>
<text x="95.91" y="438.14" font-size="7" text-anchor="middle" fill="#111">0.33</text>
<rect x="109.78" y="422.17" width="28.14" height="28.14" fill="#d44e5d"/>
<text x="124.05" y="438.14" font-size="7" text-anchor="middle" fill="#111">1.00</text>
<rect x="137.92" y="422.17" width="28.14" height="28.14" fill="#fad159"/>
<text x="152.19" y="438.14" font-size="7" text-anchor="middle" fill="#111">0.77</text>
<rect x="166.06" y="422.17" width="28.14" height="28.14" fill="#f6b921"/>
<text x="180.33" y="438.14" font-size="7" text-anchor="middle" fill="#111">0.69</text>
<rect x="194.20" y="422.17" width="28.14" height="28.14" fill="#f6b921"/>
<text x="208.47" y="438.14" font-size="7" text-anchor="middle" fill="#111">0.66</text>
<rect x="53.50" y="450.31" width="28.14" height="28.14" fill="#0b5388"/>
<text x="67.77" y="466.28" font-size="7" text-anchor="middle" fill="#fff">0.15</text>
<rect x="81.64" y="450.31" width="28.14" height="28.14" fill="#d44e5d"/>
<text x="95.91" y="466.28" font-size="7" text-anchor="middle" fill="#111">1.00</text>
<rect x="109.78" y="450.31" width="28.14" height="28.14" fill="#6cc5ee"/>
<text x="124.05" y="466.28" font-size="7" text-anchor="middle" fill="#111">0.33</text>
<rect x="137.92" y="450.31" width="28.14" height="28.14" fill="#6cc5ee"/>
<text x="152.19" y="466.28" font-size="7" text-anchor="middle" fill="#111">0.35</text>
<rect x="166.06" y="450.31" width="28.14" height="28.14" fill="#5fbe6c"/>
<text x="180.33" y="466.28" font-size="7" text-anchor="middle" fill="#111">0.42</text>
<rect x="194.20" y="450.31" width="28.14" height="28.14" fill="#2aa6de"/>
<text x="208.47" y="466.28" font-size="7" text-anchor="middle" fill="#111">0.39</text>
<rect x="53.50" y="478.45" width="28.14" height="28.14" fill="#d44e5d"/>
<text x="67.77" y="494.42" font-size="7" text-anchor="middle" fill="#111">1.00</text>
<rect x="81.64" y="478.45" width="28.14" height="28.14" fill="#0b5388"/>
<text x="95.91" y="494.42" font-size="7" text-anchor="middle" fill="#fff">0.15</text>
<rect x="109.78" y="478.45" width="28.14" height="28.14" fill="#2aa6de"/>
<text x="124.05" y="494.42" font-size="7" text-anchor="middle" fill="#111">0.38</text>
<rect x="137.92" y="478.45" width="28.14" height="28.14" fill="#5fbe6c"/>
<text x="152.19" y="494.42" font-size="7" text-anchor="middle" fill="#111">0.41</text>
<rect x="166.06" y="478.45" width="28.14" height="28.14" fill="#0b5388"/>
<text x="180.33" y="494.42" font-size="7" text-anchor="middle" fill="#fff">0.20</text>
<rect x="194.20" y="478.45" width="28.14" height="28.14" fill="#0b5388"/>
<text x="208.47" y="494.42" font-size="7" text-anchor="middle" fill="#fff">0.18</text>
<rect x="52.85" y="337.1" width="1.3" height="170.14" fill="#000"/>
<rect x="52.85" y="337.10" width="170.14" height="1.3" fill="#000"/>
<rect x="80.99" y="337.1" width="1.3" height="170.14" fill="#000"/>
<rect x="52.85" y="365.24" width="170.14" height="1.3" fill="#000"/>
<rect x="109.13" y="337.1" width="1.3" height="170.14" fill="#000"/>
<rect x="52.85" y="393.38" width="170.14" height="1.3" fill="#000"/>
<rect x="137.27" y="337.1" width="1.3" height="170.14" fill="#000"/>
<rect x="52.85" y="421.52" width="170.14" height="1.3" fill="#000"/>
<rect x="165.41" y="337.1" width="1.3" height="170.14" fill="#000"/>
<rect x="52.85" y="449.66" width="170.14" height="1.3" fill="#000"/>
<rect x="193.55" y="337.1" width="1.3" height="170.14" fill="#000"/>
<rect x="52.85" y="477.80" width="170.14" height="1.3" fill="#000"/>
<rect x="221.69" y="337.1" width="1.3" height="170.14" fill="#000"/>
<rect x="52.85" y="505.94" width="170.14" height="1.3" fill="#000"/>
<text x="67.50" y="334.1" font-size="6.75" text-anchor="middle" fill="#111" class="tb2">Erythro</text>
<text x="94.90" y="334.1" font-size="6.75" text-anchor="middle" fill="#111" class="tb2">MCF-7</text>
<text x="124.80" y="334.1" font-size="6.75" text-anchor="middle" fill="#111" class="tb2" textLength="31.4" lengthAdjust="spacingAndGlyphs">GM12878</text>
<text x="152.20" y="334.1" font-size="6.75" text-anchor="middle" fill="#111" class="tb2">IMR90</text>
<text x="179.60" y="334.1" font-size="6.75" text-anchor="middle" fill="#111" class="tb2">A549</text>
<text x="208.20" y="334.1" font-size="6.75" text-anchor="middle" fill="#111" class="tb2">HepG2</text>
<text x="226" y="353.92" font-size="7" fill="#111" class="tb2">HepG2</text>
<text x="226" y="382.06" font-size="7" fill="#111" class="tb2">A549</text>
<text x="226" y="410.20" font-size="7" fill="#111" class="tb2">IMR90</text>
<text x="226" y="438.34" font-size="7" fill="#111" class="tb2">GM12878</text>
<text x="226" y="466.48" font-size="7" fill="#111" class="tb2">MCF-7</text>
<text x="226" y="494.62" font-size="7" fill="#111" class="tb2">Erythro</text>
<path d="M43.5,355.5H51.0M43.5,381.5H51.0M43.5,355.5V381.5M44.5,407.5H51.0M44.5,435.5H51.0M44.5,407.5V435.5M38.5,368.5H43.5M38.5,421.5H44.5M38.5,368.5V421.5M28.5,394.5H38.5M28.5,461.5H51.0M28.5,394.5V461.5M23.5,428.5H28.5M23.5,489.5H51.0M23.5,428.5V489.5" stroke="#d2223a" stroke-width="1.15" fill="none" stroke-linecap="square"/>
<rect x="53.5" y="511" width="169" height="5" fill="url(#cmB)" stroke="#000" stroke-width="1.1"/>
<rect x="53.10" y="516" width="0.8" height="2" fill="#000"/>
<text x="53.50" y="526.4" font-size="6.6" text-anchor="middle" fill="#111" class="tb2">0.0</text>
<rect x="86.90" y="516" width="0.8" height="2" fill="#000"/>
<text x="87.30" y="526.4" font-size="6.6" text-anchor="middle" fill="#111" class="tb2">0.2</text>
<rect x="120.70" y="516" width="0.8" height="2" fill="#000"/>
<text x="121.10" y="526.4" font-size="6.6" text-anchor="middle" fill="#111" class="tb2">0.4</text>
<rect x="154.50" y="516" width="0.8" height="2" fill="#000"/>
<text x="154.90" y="526.4" font-size="6.6" text-anchor="middle" fill="#111" class="tb2">0.6</text>
<rect x="188.30" y="516" width="0.8" height="2" fill="#000"/>
<text x="188.70" y="526.4" font-size="6.6" text-anchor="middle" fill="#111" class="tb2">0.8</text>
<rect x="222.10" y="516" width="0.8" height="2" fill="#000"/>
<text x="222.50" y="526.4" font-size="6.6" text-anchor="middle" fill="#111" class="tb2">1.0</text>
<text x="276.3" y="331.6" font-size="12" font-weight="bold" fill="#000" stroke="#000" stroke-width="0.35">C</text>
<text x="324" y="332.0" font-size="7.6" font-weight="bold" fill="#000" stroke="#000" stroke-width="0.3" textLength="126.5" lengthAdjust="spacingAndGlyphs">Gene Ontology (Biological Process)</text>
<rect x="386.00" y="344.30" width="94.30" height="6.0" fill="#cc2036" stroke="#000" stroke-width="1"/>
<rect x="383.00" y="346.90" width="2.5" height="0.8" fill="#000"/>
<text x="380.5" y="349.50" font-size="6.6" text-anchor="end" fill="#111" class="tb2">Homeostasis of number of cells</text>
<rect x="386.00" y="353.54" width="88.46" height="6.0" fill="#cc2036" stroke="#000" stroke-width="1"/>
<rect x="383.00" y="356.14" width="2.5" height="0.8" fill="#000"/>
<text x="380.5" y="358.74" font-size="6.6" text-anchor="end" fill="#111" class="tb2">Erythrocyte differentiation</text>
<rect x="386.00" y="362.78" width="78.45" height="6.0" fill="#cc2036" stroke="#000" stroke-width="1"/>
<rect x="383.00" y="365.38" width="2.5" height="0.8" fill="#000"/>
<text x="380.5" y="367.98" font-size="6.6" text-anchor="end" fill="#111" class="tb2">Erythrocyte homeostasis</text>
<rect x="386.00" y="372.02" width="75.67" height="6.0" fill="#cc2036" stroke="#000" stroke-width="1"/>
<rect x="383.00" y="374.62" width="2.5" height="0.8" fill="#000"/>
<text x="380.5" y="377.22" font-size="6.6" text-anchor="end" fill="#111" class="tb2">Gas transport</text>
<rect x="386.00" y="381.26" width="74.28" height="6.0" fill="#cc2036" stroke="#000" stroke-width="1"/>
<rect x="383.00" y="383.86" width="2.5" height="0.8" fill="#000"/>
<text x="380.5" y="386.46" font-size="6.6" text-anchor="end" fill="#111" class="tb2">Myeloid cell homeostasis</text>
<rect x="386.00" y="390.50" width="55.66" height="6.0" fill="#cc2036" stroke="#000" stroke-width="1"/>
<rect x="383.00" y="393.10" width="2.5" height="0.8" fill="#000"/>
<text x="380.5" y="395.70" font-size="6.6" text-anchor="end" fill="#111" class="tb2">Oxygen transport</text>
<rect x="386.00" y="399.74" width="52.32" height="6.0" fill="#cc2036" stroke="#000" stroke-width="1"/>
<rect x="383.00" y="402.34" width="2.5" height="0.8" fill="#000"/>
<text x="380.5" y="404.94" font-size="6.6" text-anchor="end" fill="#111" class="tb2">Bicarbonate transport</text>
<rect x="386.00" y="408.98" width="43.42" height="6.0" fill="#cc2036" stroke="#000" stroke-width="1"/>
<rect x="383.00" y="411.58" width="2.5" height="0.8" fill="#000"/>
<text x="380.5" y="414.18" font-size="6.6" text-anchor="end" fill="#111" class="tb2">Hydrogen peroxide catabolic process</text>
<rect x="385.0" y="342" width="1" height="75" fill="#000"/>
<rect x="385.0" y="416" width="112.20" height="1" fill="#000"/>
<rect x="385.00" y="416" width="1" height="2.5" fill="#000"/>
<text x="385.50" y="426.6" font-size="7.8" text-anchor="middle" fill="#111" class="tb">0</text>
<rect x="412.80" y="416" width="1" height="2.5" fill="#000"/>
<text x="413.30" y="426.6" font-size="7.8" text-anchor="middle" fill="#111" class="tb">1</text>
<rect x="440.60" y="416" width="1" height="2.5" fill="#000"/>
<text x="441.10" y="426.6" font-size="7.8" text-anchor="middle" fill="#111" class="tb">2</text>
<rect x="468.40" y="416" width="1" height="2.5" fill="#000"/>
<text x="468.90" y="426.6" font-size="7.8" text-anchor="middle" fill="#111" class="tb">3</text>
<rect x="496.20" y="416" width="1" height="2.5" fill="#000"/>
<text x="496.70" y="426.6" font-size="7.8" text-anchor="middle" fill="#111" class="tb">4</text>
<text x="404.3" y="435.4" font-size="8.4" fill="#111" class="tb" textLength="72.3" lengthAdjust="spacingAndGlyphs">-log<tspan font-size="6.6" dy="2.5">10</tspan><tspan dy="-2.5">(adjusted p value)</tspan></text>
<text x="276.6" y="459.3" font-size="12" font-weight="bold" fill="#000" stroke="#000" stroke-width="0.35">D</text>
<text x="339.2" y="460.7" font-size="7.6" font-weight="bold" fill="#000" stroke="#000" stroke-width="0.3" textLength="99.3" lengthAdjust="spacingAndGlyphs">Human Phenotype Ontology</text>
<rect x="386.80" y="473.00" width="99.00" height="4.2" fill="#cc2036" stroke="#000" stroke-width="1"/>
<rect x="383.80" y="474.70" width="2.5" height="0.8" fill="#000"/>
<text x="380.2" y="477.70" font-size="6.62" text-anchor="end" fill="#111" class="tb2">Hemolytic anemia</text>
<rect x="386.80" y="479.17" width="57.00" height="4.2" fill="#cc2036" stroke="#000" stroke-width="1"/>
<rect x="383.80" y="480.87" width="2.5" height="0.8" fill="#000"/>
<text x="380.2" y="483.87" font-size="6.62" text-anchor="end" fill="#111" class="tb2">Reticulocytosis</text>
<rect x="386.80" y="485.34" width="54.70" height="4.2" fill="#cc2036" stroke="#000" stroke-width="1"/>
<rect x="383.80" y="487.04" width="2.5" height="0.8" fill="#000"/>
<text x="380.2" y="490.04" font-size="6.62" text-anchor="end" fill="#111" class="tb2">Nonspherocytic hemolytic anemia</text>
<rect x="386.80" y="491.51" width="48.70" height="4.2" fill="#cc2036" stroke="#000" stroke-width="1"/>
<rect x="383.80" y="493.21" width="2.5" height="0.8" fill="#000"/>
<text x="380.2" y="496.21" font-size="6.62" text-anchor="end" fill="#111" class="tb2">Elliptocytosis</text>
<rect x="386.80" y="497.68" width="48.30" height="4.2" fill="#cc2036" stroke="#000" stroke-width="1"/>
<rect x="383.80" y="499.38" width="2.5" height="0.8" fill="#000"/>
<text x="380.2" y="502.38" font-size="6.62" text-anchor="end" fill="#111" class="tb2">Heinz body anemia</text>
<rect x="386.80" y="503.85" width="47.60" height="4.2" fill="#cc2036" stroke="#000" stroke-width="1"/>
<rect x="383.80" y="505.55" width="2.5" height="0.8" fill="#000"/>
<text x="380.2" y="508.55" font-size="6.62" text-anchor="end" fill="#111" class="tb2">Cholelithiasis</text>
<rect x="386.80" y="510.02" width="44.10" height="4.2" fill="#cc2036" stroke="#000" stroke-width="1"/>
<rect x="383.80" y="511.72" width="2.5" height="0.8" fill="#000"/>
<text x="380.2" y="514.72" font-size="6.62" text-anchor="end" fill="#111" class="tb2">Abnormal hemoglobin</text>
<rect x="386.80" y="516.19" width="40.30" height="4.2" fill="#cc2036" stroke="#000" stroke-width="1"/>
<rect x="383.80" y="517.89" width="2.5" height="0.8" fill="#000"/>
<text x="380.2" y="520.89" font-size="6.62" text-anchor="end" fill="#111" class="tb2">Hypochromic microcytic anemia</text>
<rect x="386.80" y="522.36" width="38.10" height="4.2" fill="#cc2036" stroke="#000" stroke-width="1"/>
<rect x="383.80" y="524.06" width="2.5" height="0.8" fill="#000"/>
<text x="380.2" y="527.06" font-size="6.62" text-anchor="end" fill="#111" class="tb2">Pallor</text>
<rect x="386.80" y="528.53" width="37.90" height="4.2" fill="#cc2036" stroke="#000" stroke-width="1"/>
<rect x="383.80" y="530.23" width="2.5" height="0.8" fill="#000"/>
<text x="380.2" y="533.23" font-size="6.62" text-anchor="end" fill="#111" class="tb2">Reduced alpha/beta globin synthesis ratio</text>
<rect x="386.80" y="534.70" width="37.40" height="4.2" fill="#cc2036" stroke="#000" stroke-width="1"/>
<rect x="383.80" y="536.40" width="2.5" height="0.8" fill="#000"/>
<text x="380.2" y="539.40" font-size="6.62" text-anchor="end" fill="#111" class="tb2">Microcytic anemia</text>
<rect x="386.80" y="540.87" width="30.20" height="4.2" fill="#cc2036" stroke="#000" stroke-width="1"/>
<rect x="383.80" y="542.57" width="2.5" height="0.8" fill="#000"/>
<text x="380.2" y="545.57" font-size="6.62" text-anchor="end" fill="#111" class="tb2">Spherocytosis</text>
<rect x="385.8" y="472" width="1" height="75" fill="#000"/>
<rect x="385.8" y="546.2" width="111.70" height="1" fill="#000"/>
<rect x="385.80" y="546.2" width="1" height="2.5" fill="#000"/>
<text x="386.30" y="556.8" font-size="7.8" text-anchor="middle" fill="#111" class="tb">0</text>
<rect x="422.70" y="546.2" width="1" height="2.5" fill="#000"/>
<text x="423.20" y="556.8" font-size="7.8" text-anchor="middle" fill="#111" class="tb">2</text>
<rect x="459.60" y="546.2" width="1" height="2.5" fill="#000"/>
<text x="460.10" y="556.8" font-size="7.8" text-anchor="middle" fill="#111" class="tb">4</text>
<rect x="496.50" y="546.2" width="1" height="2.5" fill="#000"/>
<text x="497.00" y="556.8" font-size="7.8" text-anchor="middle" fill="#111" class="tb">6</text>
<text x="405.0" y="565.5" font-size="8.4" fill="#111" class="tb" textLength="72.3" lengthAdjust="spacingAndGlyphs">-log<tspan font-size="6.6" dy="2.5">10</tspan><tspan dy="-2.5">(adjusted p value)</tspan></text>
</svg></body></html>
